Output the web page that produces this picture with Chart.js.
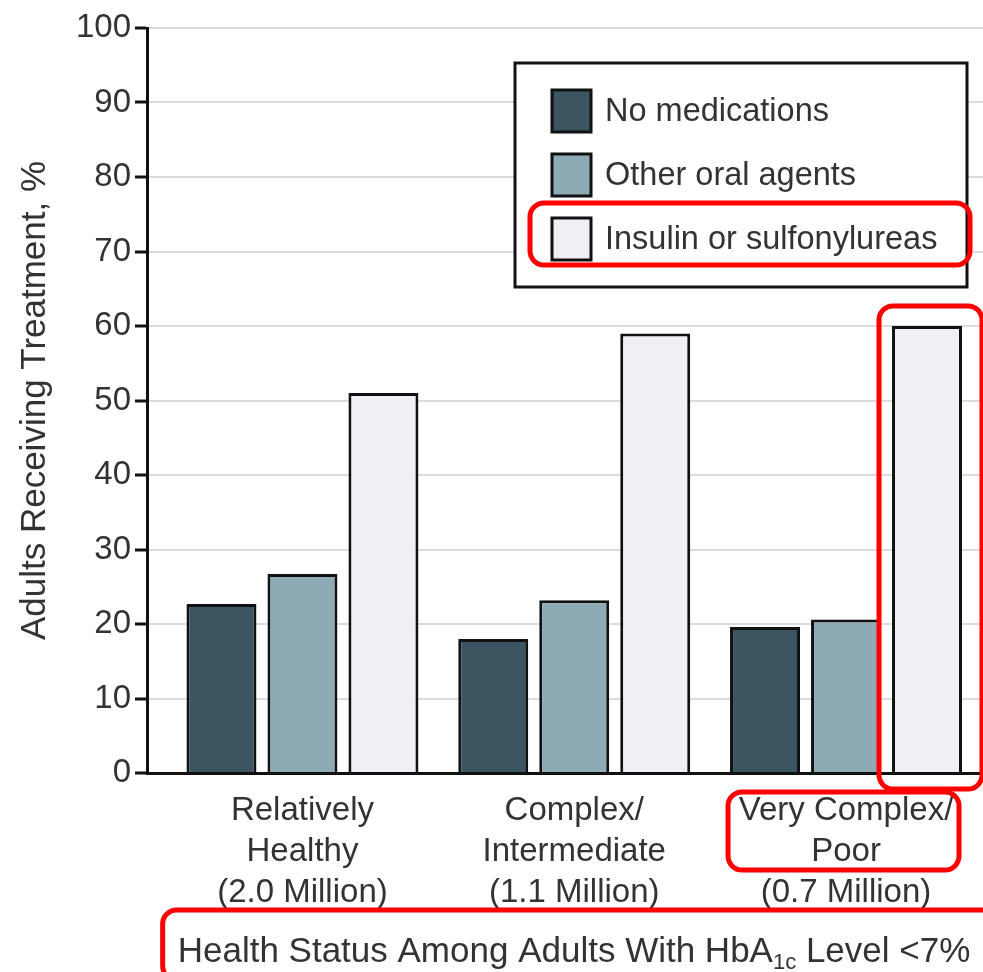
<!DOCTYPE html>
<html>
<head>
<meta charset="utf-8">
<script src="https://cdn.jsdelivr.net/npm/chart.js@4/dist/chart.umd.min.js"></script>
<style>
  html, body { margin: 0; padding: 0; background: #fff; }
  #wrap { width: 983px; height: 972px; position: relative; }
</style>
</head>
<body>
<div id="wrap"><canvas id="c" width="983" height="972"></canvas></div>
<script>
// Health status groups (multi-line axis labels) and their positions on the x scale
const groupLabels = [
  ['Relatively', 'Healthy', '(2.0 Million)'],
  ['Complex/', 'Intermediate', '(1.1 Million)'],
  ['Very Complex/', 'Poor', '(0.7 Million)']
];
const groupIndex = [0, 1, 2];

// Share of adults receiving each treatment, %
const seriesNames = ['No medications', 'Other oral agents', 'Insulin or sulfonylureas'];
const noMedications = [22.7, 18.0, 19.6];
const otherOralAgents = [26.7, 23.2, 20.6];
const insulinOrSulfonylureas = [51.0, 59.0, 60.0];

const yTickValues = [0, 10, 20, 30, 40, 50, 60, 70, 80, 90, 100];
const yTitle = 'Adults Receiving Treatment, %';
const xTitleParts = ['Health Status Among Adults With HbA', '1c', ' Level <7%'];

const FONT = '"Liberation Sans", Arial, sans-serif';
const TEXT = '#333';
const fills = ['#3b5661', '#8eaab5', '#eef0f3'];

const toPoints = arr => arr.map((v, i) => ({ x: groupIndex[i], y: v }));

// Framed legend in the upper right of the plot
const boxedLegend = {
  id: 'boxedLegend',
  afterDatasetsDraw(chart) {
    const { ctx, chartArea } = chart;
    const x0 = chartArea.left + 368, y0 = chartArea.top + 35;
    const w = 452, h = 224;
    ctx.save();
    ctx.fillStyle = '#fff';
    ctx.fillRect(x0, y0, w, h);
    ctx.lineWidth = 3;
    ctx.strokeStyle = '#111';
    ctx.strokeRect(x0, y0, w, h);
    ctx.font = '32.5px ' + FONT;
    ctx.textBaseline = 'middle';
    chart.legendRows = [];
    chart.data.datasets.forEach((ds, i) => {
      const cy = y0 + 48 + i * 64;
      ctx.fillStyle = ds.backgroundColor;
      ctx.fillRect(x0 + 37, cy - 21, 39, 42);
      ctx.lineWidth = 3;
      ctx.strokeStyle = '#111';
      ctx.strokeRect(x0 + 37, cy - 21, 39, 42);
      ctx.fillStyle = TEXT;
      ctx.fillText(ds.label, x0 + 90, cy + 1);
      chart.legendRows.push({ x: x0, y: cy, w: w });
    });
    ctx.restore();
  }
};

// Axis title under the group labels, with a subscript
const xAxisTitle = {
  id: 'xAxisTitle',
  afterDraw(chart) {
    const { ctx, chartArea } = chart;
    ctx.save();
    ctx.fillStyle = TEXT;
    ctx.textBaseline = 'alphabetic';
    const big = '35px ' + FONT, small = '22px ' + FONT;
    ctx.font = big; const w1 = ctx.measureText(xTitleParts[0]).width;
    ctx.font = small; const w2 = ctx.measureText(xTitleParts[1]).width;
    ctx.font = big; const w3 = ctx.measureText(xTitleParts[2]).width;
    const total = w1 + w2 + w3;
    const cx = 574;
    let x = cx - total / 2;
    const base = chartArea.bottom + 189;
    ctx.font = big; ctx.fillText(xTitleParts[0], x, base); x += w1;
    ctx.font = small; ctx.fillText(xTitleParts[1], x, base + 7); x += w2;
    ctx.font = big; ctx.fillText(xTitleParts[2], x, base);
    chart.xTitleBox = { left: cx - total / 2, right: cx + total / 2, base };
    ctx.restore();
  }
};

// Red highlight frames
const highlights = {
  id: 'highlights',
  afterDraw(chart) {
    const { ctx, chartArea } = chart;
    const rr = (x, y, w, h) => {
      ctx.beginPath();
      ctx.roundRect(x, y, w, h, 14);
      ctx.stroke();
    };
    ctx.save();
    ctx.strokeStyle = '#ff0000';
    ctx.lineWidth = 5;
    // legend row of the third series
    const row = chart.legendRows[2];
    rr(row.x + 15, row.y - 36, row.w - 12, 62);
    // tallest bar of the third group
    const bar = chart.getDatasetMeta(2).data[2];
    rr(bar.x - bar.width / 2 - 13, bar.y - 20, bar.width + 33, bar.base - bar.y + 37);
    // label of the third group
    const xs = chart.scales.x;
    const tx = xs.getPixelForValue(groupIndex[2]);
    rr(tx - 118, chartArea.bottom + 19, 231, 78);
    // axis title
    const tb = chart.xTitleBox;
    rr(tb.left - 15, tb.base - 52, 840, 70);
    ctx.restore();
  }
};

new Chart(document.getElementById('c'), {
  type: 'bar',
  data: {
    datasets: [
      { label: seriesNames[0], data: toPoints(noMedications), backgroundColor: fills[0] },
      { label: seriesNames[1], data: toPoints(otherOralAgents), backgroundColor: fills[1] },
      { label: seriesNames[2], data: toPoints(insulinOrSulfonylureas), backgroundColor: fills[2] }
    ]
  },
  options: {
    responsive: false,
    animation: false,
    layout: { padding: { top: 28, right: 0, left: 0, bottom: 0 } },
    datasets: {
      bar: {
        borderColor: '#111',
        borderWidth: 3,
        borderSkipped: 'start',
        categoryPercentage: 0.894,
        barPercentage: 0.864
      }
    },
    plugins: {
      legend: { display: false },
      tooltip: { enabled: false }
    },
    scales: {
      x: {
        type: 'linear',
        offset: false,
        min: -0.572,
        max: 2.504,
        afterBuildTicks(scale) { scale.ticks = groupIndex.map(v => ({ value: v })); },
        afterFit(scale) { scale.height = 199; },
        grid: { display: false },
        border: { display: true, color: '#111', width: 3 },
        ticks: {
          autoSkip: false,
          maxRotation: 0,
          padding: 10,
          color: TEXT,
          font: { family: FONT, size: 33, lineHeight: 1.23 },
          callback: v => groupLabels[v]
        }
      },
      y: {
        min: 0,
        max: 100,
        afterBuildTicks(scale) { scale.ticks = yTickValues.map(v => ({ value: v })); },
        afterFit(scale) { scale.width = 147; },
        grid: {
          color: ctx => (ctx.tick && ctx.tick.value === 0) ? '#111' : '#dcdcdc',
          lineWidth: 2,
          tickColor: '#111',
          tickLength: 12,
          tickWidth: 3
        },
        border: { display: true, color: '#111', width: 3 },
        ticks: {
          padding: 4,
          color: TEXT,
          font: { family: FONT, size: 33 }
        },
        title: {
          display: true,
          text: yTitle,
          color: TEXT,
          font: { family: FONT, size: 35 },
          padding: { top: 14, bottom: 0 }
        }
      }
    }
  },
  plugins: [boxedLegend, xAxisTitle, highlights]
});
</script>
</body>
</html>
